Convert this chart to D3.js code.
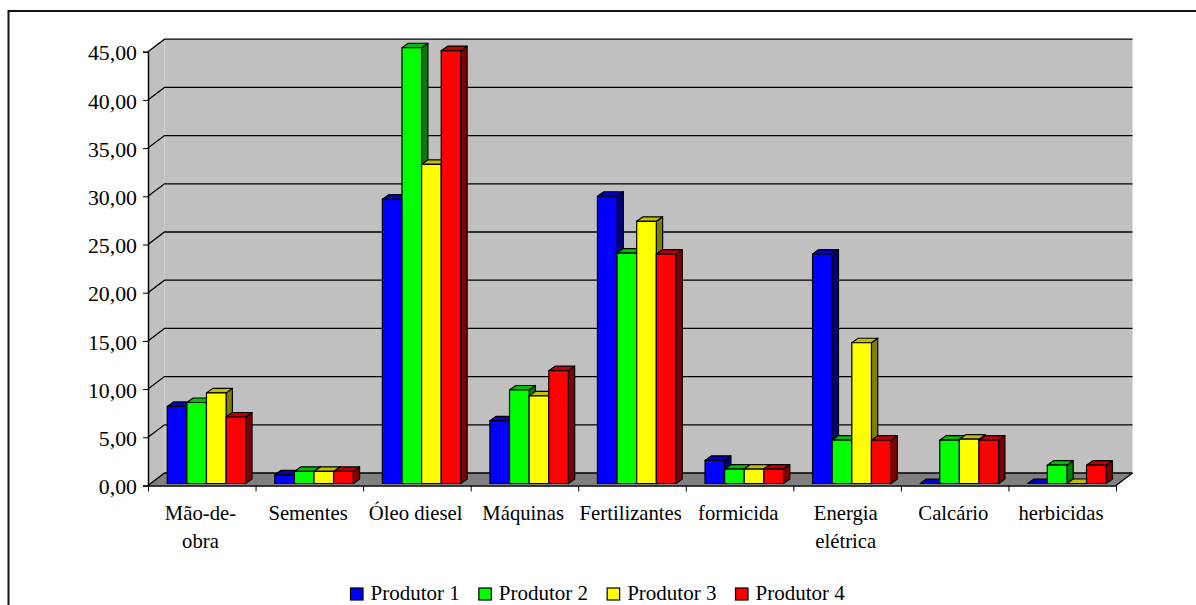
<!DOCTYPE html>
<html>
<head>
<meta charset="utf-8">
<script src="https://cdn.jsdelivr.net/npm/d3@7"></script>
<style>
html, body { margin: 0; background: #fff; }
svg { display: block; }
text { font-family: "Liberation Serif", serif; font-size: 20.7px; fill: #000; }
</style>
</head>
<body>
<div id="index"></div>
<script>
const width = 1196;
const height = 605;

const categories = ["Mão-de-\nobra", "Sementes", "Óleo diesel", "Máquinas", "Fertilizantes", "formicida", "Energia\nelétrica", "Calcário", "herbicidas"];
const seriesNames = ["Produtor 1", "Produtor 2", "Produtor 3", "Produtor 4"];
const produtor1 = [8.0, 0.9, 29.5, 6.5, 29.8, 2.4, 23.8, 0, 0];
const produtor2 = [8.4, 1.25, 45.2, 9.7, 23.9, 1.5, 4.5, 4.5, 1.9];
const produtor3 = [9.4, 1.25, 33.1, 9.1, 27.2, 1.5, 14.6, 4.6, 0];
const produtor4 = [6.9, 1.25, 44.9, 11.7, 23.8, 1.5, 4.5, 4.5, 1.9];
const yTicks = [0, 5, 10, 15, 20, 25, 30, 35, 40, 45];

const seriesValues = [produtor1, produtor2, produtor3, produtor4];
const frontColors = ["#0000ff", "#00ff00", "#ffff00", "#ff0000"];
const topColors = ["#0000c0", "#00c000", "#c0c000", "#c00000"];
const sideColors = ["#000080", "#008000", "#808000", "#800000"];

// posição do gráfico
const plotLeft = 148, plotRight = 1116, plotBase = 485.5, plotTop = 51.7;
const depthX = 16.5, depthY = 12.5;
const barDepthX = 6.3, barDepthY = 4.5;
const barOffsetX = 4.7, barOffsetY = -2;

const svg = d3.select("#index")
    .append("svg")
    .attr("width", width)
    .attr("height", height);

svg.append("path")
    .attr("d", `M8.5,${height}V11H${width}`)
    .attr("fill", "none")
    .attr("stroke", "#111")
    .attr("stroke-width", 2);

const x = d3.scaleBand()
    .domain(d3.range(categories.length))
    .range([plotLeft, plotRight]);
const y = d3.scaleLinear()
    .domain([0, 45])
    .range([plotBase, plotTop]);
const xInner = d3.scaleBand()
    .domain(d3.range(seriesNames.length))
    .range([0, 78.5]);

const poly = (pts) => "M" + pts.map((p) => p.join(",")).join("L") + "Z";

// paredes e chão
svg.append("path")
    .attr("d", poly([[plotLeft + depthX, y(45) - depthY], [plotRight + depthX, y(45) - depthY], [plotRight + depthX, plotBase - depthY], [plotLeft + depthX, plotBase - depthY]]))
    .attr("fill", "#c0c0c0");
svg.append("path")
    .attr("d", poly([[plotLeft, y(45)], [plotLeft + depthX, y(45) - depthY], [plotLeft + depthX, plotBase - depthY], [plotLeft, plotBase]]))
    .attr("fill", "#c0c0c0");
svg.append("path")
    .attr("d", poly([[plotLeft, plotBase], [plotLeft + depthX, plotBase - depthY], [plotRight + depthX, plotBase - depthY], [plotRight, plotBase]]))
    .attr("fill", "#808080");

// linhas de grade
svg.append("g")
    .selectAll("path")
    .data(yTicks)
    .join("path")
    .attr("d", (d) => `M${plotLeft},${y(d)}L${plotLeft + depthX},${y(d) - depthY}H${plotRight + depthX}`)
    .attr("fill", "none")
    .attr("stroke", "#000")
    .attr("stroke-width", 1.3);

svg.append("path")
    .attr("d", `M${plotRight},${plotBase}L${plotRight + depthX},${plotBase - depthY}`)
    .attr("fill", "none")
    .attr("stroke", "#000")
    .attr("stroke-width", 1.3);

// eixos
const yAxis = d3.axisLeft(y)
    .tickValues(yTicks)
    .tickSize(5)
    .tickPadding(6)
    .tickFormat((d) => d3.format(".2f")(d).replace(".", ","));
const yAxisG = svg.append("g")
    .attr("transform", `translate(${plotLeft},0)`)
    .call(yAxis);
yAxisG.selectAll("text")
    .attr("dy", "0.38em")
    .style("font-size", "21.8px")
    .style("font-family", "Liberation Serif");

const xEdges = d3.scaleLinear()
    .domain([0, categories.length])
    .range([plotLeft, plotRight]);
const xAxis = d3.axisBottom(xEdges)
    .tickValues(d3.range(categories.length + 1))
    .tickSize(6)
    .tickSizeOuter(0)
    .tickFormat("");
svg.append("g")
    .attr("transform", `translate(0,${plotBase})`)
    .call(xAxis);
svg.selectAll(".domain").attr("stroke-width", 1.5);

// barras
const groups = svg.append("g")
    .selectAll("g")
    .data(categories.map((c, i) => i))
    .join("g")
    .attr("transform", (i) => `translate(${x(i) + (x.bandwidth() - xInner.range()[1]) / 2 + barOffsetX},${barOffsetY})`);

const bars = groups.selectAll("g")
    .data((i) => seriesValues.map((values, s) => ({s: s, value: values[i]})))
    .join("g")
    .attr("stroke", "#000")
    .attr("stroke-width", 1.2)
    .attr("stroke-linejoin", "round");

const barLeft = (d) => xInner(d.s);
const barRight = (d) => xInner(d.s) + xInner.bandwidth();

bars.append("path")
    .attr("d", (d) => poly([[barRight(d), y(d.value)], [barRight(d) + barDepthX, y(d.value) - barDepthY], [barRight(d) + barDepthX, plotBase - barDepthY], [barRight(d), plotBase]]))
    .attr("fill", (d) => sideColors[d.s]);
bars.append("path")
    .attr("d", (d) => poly([[barLeft(d), y(d.value)], [barLeft(d) + barDepthX, y(d.value) - barDepthY], [barRight(d) + barDepthX, y(d.value) - barDepthY], [barRight(d), y(d.value)]]))
    .attr("fill", (d) => topColors[d.s]);
bars.filter((d) => d.value > 0)
    .append("rect")
    .attr("x", barLeft)
    .attr("y", (d) => y(d.value))
    .attr("width", xInner.bandwidth())
    .attr("height", (d) => plotBase - y(d.value))
    .attr("fill", (d) => frontColors[d.s]);

// rótulos das categorias
const labels = svg.append("g")
    .selectAll("text")
    .data(categories)
    .join("text")
    .attr("text-anchor", "middle")
    .attr("transform", (d, i) => `translate(${x(i) + x.bandwidth() / 2 - 1.3},520)`);
labels.selectAll("tspan")
    .data((d) => d.split("\n"))
    .join("tspan")
    .attr("x", 0)
    .attr("y", (d, i) => i * 28)
    .text((d) => d);

// legenda
const legendX = d3.scalePoint()
    .domain(seriesNames)
    .range([350.5, 735.5]);
const legend = svg.append("g")
    .selectAll("g")
    .data(seriesNames)
    .join("g")
    .attr("transform", (d) => `translate(${legendX(d)},588)`);
legend.append("rect")
    .attr("width", 12.5)
    .attr("height", 12)
    .attr("fill", (d, i) => frontColors[i])
    .attr("stroke", "#000")
    .attr("stroke-width", 1.2);
legend.append("text")
    .attr("x", 20)
    .attr("y", 12.4)
    .style("font-size", "21px")
    .text((d) => d);
</script>
</body>
</html>
